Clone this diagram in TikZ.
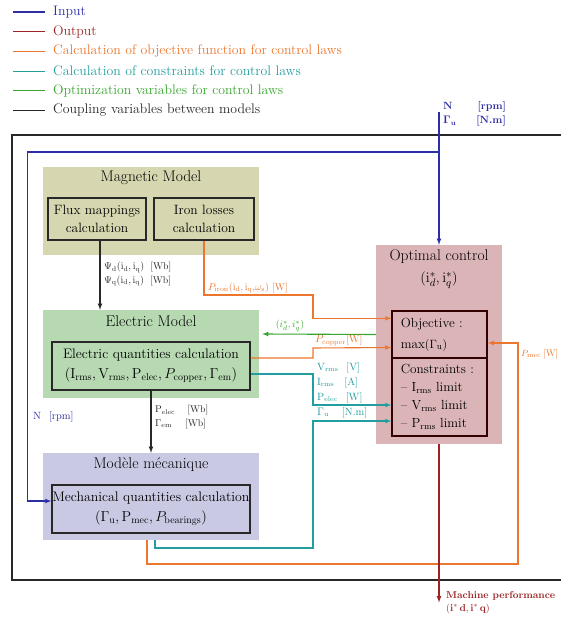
\documentclass[tikz,border=0pt]{standalone}
\usetikzlibrary{calc}

\definecolor{inblue}{RGB}{45,45,165}
\definecolor{outred}{RGB}{155,35,35}
\definecolor{objorange}{RGB}{236,118,45}
\definecolor{conteal}{RGB}{35,158,160}
\definecolor{optgreen}{RGB}{55,165,45}
\definecolor{coupgray}{RGB}{40,40,40}
\definecolor{magfill}{RGB}{214,214,176}
\definecolor{elecfill}{RGB}{182,217,178}
\definecolor{mecfill}{RGB}{201,201,228}
\definecolor{optfill}{RGB}{218,180,183}

\tikzset{
  modelbox/.style={minimum width=216, minimum height=88, inner sep=0},
  calcbox/.style={draw=coupgray, line width=1.3pt, align=center, inner sep=0},
  boxtitle/.style={font=\fontsize{15.5}{17}\selectfont},
  calctext/.style={font=\fontsize{13.8}{20}\selectfont, align=center},
  inline/.style={draw=inblue, line width=1.1pt},
  outline/.style={draw=outred, line width=1.2pt},
  objline/.style={draw=objorange, line width=1.1pt},
  conline/.style={draw=conteal, line width=1.1pt},
  optline/.style={draw=optgreen, line width=1.1pt},
  coupline/.style={draw=coupgray, line width=1.1pt},
  lbl/.style={font=\fontsize{9.8}{13.5}\selectfont, inner sep=0, anchor=west, align=left},
  legtext/.style={font=\fontsize{13.8}{15}\selectfont, anchor=west, inner sep=0}
}

\begin{document}
\begin{tikzpicture}[x=1pt, y=-1pt]
  \useasboundingbox (0,0) rectangle (560,620);

  %% legend
  \foreach \col/\txt [count=\i from 0] in {inblue/Input, outred/Output,
      objorange/Calculation of objective function for control laws,
      conteal/Calculation of constraints for control laws,
      optgreen/Optimization variables for control laws,
      coupgray/Coupling variables between models} {
    \draw[\col, line width=1.1pt] (13, 12+19.7*\i) -- (45, 12+19.7*\i);
    \node[legtext, text=\col] (leg\i) at (53, 12+19.7*\i) {\txt};
  }

  %% outer frame
  \draw[coupgray, line width=1.2pt] (12,135) rectangle (570,580);

  %% models
  \node[modelbox, fill=magfill] (mag) at (151,211) {};
  \node[boxtitle] (magtitle) at (151,178) {Magnetic Model};
  \node[calcbox, minimum width=98, minimum height=42] (flux) at (97,219) {};
  \node[calctext, font=\fontsize{13.5}{18}\selectfont] at (flux) {Flux mappings\\calculation};
  \node[calcbox, minimum width=100, minimum height=42] (iron) at (204,219) {};
  \node[calctext, font=\fontsize{13.5}{18}\selectfont] at (iron) {Iron losses\\calculation};

  \node[modelbox, fill=elecfill] (elec) at (151,354) {};
  \node[boxtitle] (electitle) at (151,321) {Electric Model};
  \node[calcbox, minimum width=198, minimum height=48] (elecq) at (151,366) {};
  \node[calctext] at (elecq) {Electric quantities calculation\\
    $(\mathrm{I_{rms}},\mathrm{V_{rms}},\mathrm{P_{elec}},P_{\mathrm{copper}},\Gamma_{\mathrm{em}})$};

  \node[modelbox, fill=mecfill, minimum height=87] (mec) at (151,496.5) {};
  \node[boxtitle] (mectitle) at (151,465) {Modèle mécanique};
  \node[calcbox, minimum width=198, minimum height=48] (mecq) at (151,509) {};
  \node[calctext] at (mecq) {Mechanical quantities calculation\\
    $(\Gamma_{\mathrm{u}},\mathrm{P_{mec}},P_{\mathrm{bearings}})$};

  %% optimal control
  \node[fill=optfill, minimum width=126, minimum height=199, inner sep=0] (opt) at (439,344.5) {};
  \node[boxtitle, align=center, font=\fontsize{15.5}{22}\selectfont] (opttitle) at (439,269)
    {Optimal control\\$(\mathrm{i}^*_d,\mathrm{i}^*_q)$};
  \node[calcbox, draw=black!80!red, minimum width=95, minimum height=47] (obj) at (439.5,334.5) {};
  \node[calctext, align=left, anchor=west, font=\fontsize{13.2}{21}\selectfont] at ([xshift=6pt]obj.west)
    {Objective :\\max$(\Gamma_{\mathrm{u}})$};
  \node[calcbox, draw=black!80!red, minimum width=95, minimum height=78] (cons) at (439.5,397) {};
  \node[calctext, align=left, anchor=west, font=\fontsize{13.2}{18}\selectfont] at ([xshift=6pt]cons.west)
    {Constraints :\\-- I$_{\mathrm{rms}}$ limit\\-- V$_{\mathrm{rms}}$ limit\\-- P$_{\mathrm{rms}}$ limit};

  %% inputs
  \coordinate (nin) at (439,112);
  \coordinate (split) at (439,152);
  \node[lbl, text=inblue, font=\bfseries\fontsize{10.5}{14}\selectfont] (inlbl) at (443,114)
    {N\hspace{25pt}[rpm]\\$\mathbf{\Gamma_u}$\hspace{20pt}[N.m]};
  \draw[inline,-latex] (nin) -- (opt.north);
  \draw[inline,-latex] (split) -| ([xshift=-24pt,yshift=8pt]mecq.west) -- ([yshift=8pt]mecq.west);
  \node[lbl, text=inblue, font=\fontsize{10.5}{12}\selectfont] at (33,417) {N\hspace{8pt}[rpm]};

  %% coupling
  \draw[coupline,-latex] ([xshift=3pt]flux.south) -- ([xshift=3pt]flux.south |- elec.north);
  \node[lbl, text=coupgray] at (104,274)
    {$\Psi_{\mathrm{d}}(\mathrm{i_d,i_q})$\hspace{6pt}[Wb]\\$\Psi_{\mathrm{q}}(\mathrm{i_d,i_q})$\hspace{6pt}[Wb]};
  \draw[coupline,-latex] (elecq.south) -- (mec.north);
  \node[lbl, text=coupgray] at (155,417)
    {P$_{\mathrm{elec}}$\hspace{12pt}[Wb]\\$\Gamma_{\mathrm{em}}$\hspace{13pt}[Wb]};

  %% objective
  \draw[objline,-latex] (iron.south) |- (313,295) |- ([yshift=-8pt]obj.north west);
  \node[lbl, text=objorange] at (208,288) {$P_{\mathrm{iron}}(\mathrm{i_d,i_q,}\omega_{\mathrm{s}})$ [W]};
  \draw[objline,-latex] ([yshift=8pt]elecq.east) -| (313,348) -- ([yshift=-13pt]obj.west);
  \node[lbl, text=objorange, font=\fontsize{10.5}{12}\selectfont] at (315,340) {$P_{\mathrm{copper}}$[W]};
  \draw[objline,-latex] ([xshift=-4pt]mec.south) |- (518,564) |- ([yshift=-8.5pt]obj.east);
  \node[lbl, text=objorange, font=\fontsize{9.5}{12}\selectfont] at (521,354) {$P_{\mathrm{mec}}$\hspace{2pt}[W]};

  %% constraints
  \draw[conline,-latex] ([yshift=-8pt]elecq.east) -| (313,405) -- ([yshift=-8pt]cons.west);
  \draw[conline,-latex] ([xshift=4pt]mec.south) |- (313,548) |- ([yshift=-24pt]cons.west);
  \node[lbl, text=conteal, font=\fontsize{10.5}{15}\selectfont] at (317,390)
    {V$_{\mathrm{rms}}$\hspace{8pt}[V]\\I$_{\mathrm{rms}}$\hspace{10pt}[A]\\P$_{\mathrm{elec}}$\hspace{8pt}[W]\\$\Gamma_{\mathrm{u}}$\hspace{13pt}[N.m]};

  %% optimization variables
  \draw[optline,-latex] ([yshift=10pt]opt.west) -- ([yshift=20pt,xshift=3pt]elec.east);
  \node[lbl, text=optgreen, anchor=center] at (290,326) {$(i^*_d,i^*_q)$};

  %% output
  \node[lbl, text=outred, anchor=north west, font=\bfseries\fontsize{10}{13}\selectfont] (perf) at (446,591)
    {Machine performance\\$(\mathbf{i}^*\,\mathbf{d},\mathbf{i}^*\,\mathbf{q})$};
  \draw[outline,-latex] (opt.south) -- (opt.south |- perf.west);
\end{tikzpicture}
\end{document}
